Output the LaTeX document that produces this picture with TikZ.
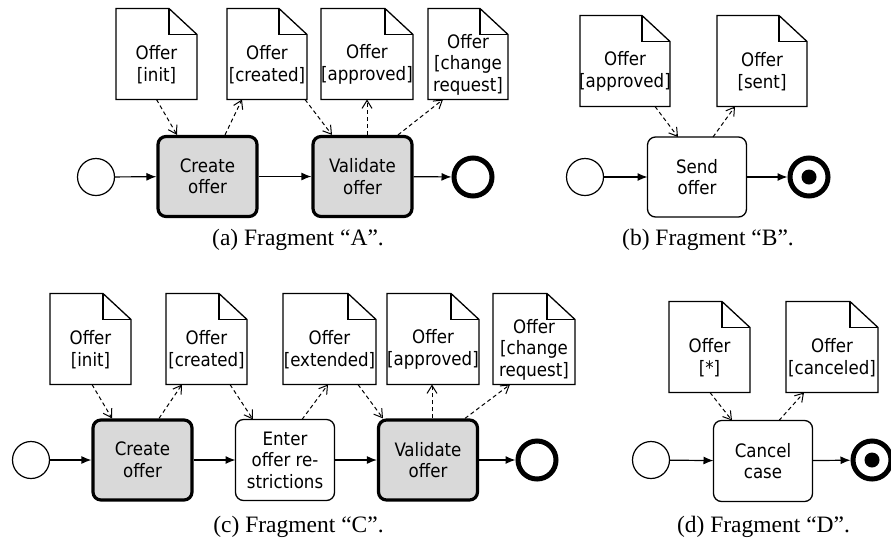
\documentclass[tikz,border=0pt]{standalone}
\usepackage{fontspec}
\setmainfont{Liberation Serif}
\newfontfamily\dfont{DejaVu Sans Condensed}
\usetikzlibrary{arrows.meta}
\newcommand\offerdoc[5]{%
  \node[docbox, minimum width=#4pt] (#1) at (#2,#3) {};
  \draw[docline] (#1.north west) -- ([xshift=-28pt]#1.north east) -- ([yshift=-26pt]#1.north east) -- (#1.south east) -- (#1.south west) -- cycle;
  \draw[docline] ([xshift=-28pt]#1.north east) |- ([yshift=-26pt]#1.north east);
  \node[doctext] (#1t) at ([yshift=-10.5pt]#1.center) {#5};
}
\begin{document}
\begin{tikzpicture}[x=1pt,y=-1pt,
  every node/.style={inner sep=0pt, outer sep=0pt},
  dtext/.style={font=\dfont\fontsize{18.5}{21.5}\selectfont, align=center},
  task/.style={dtext, draw, rounded corners=8pt, line width=1.3pt, minimum width=99pt, minimum height=80pt, fill=white},
  hottask/.style={task, fill=black!15, line width=3.2pt, minimum width=99pt, minimum height=80pt, outer sep=1.6pt},
  startev/.style={circle, draw, line width=1.2pt, minimum size=37pt},
  endev/.style={circle, draw, line width=5pt, minimum size=38pt, outer sep=2.5pt},
  docbox/.style={minimum height=91pt},
  docline/.style={line width=1.3pt, line join=miter},
  doctext/.style={dtext},
  flow/.style={line width=1.2pt, -{Latex[length=10pt,width=8pt]}},
  assoc/.style={line width=1pt, dash pattern=on 4pt off 3pt, -{Straight Barb[length=8pt,width=10pt]}},
  caption/.style={font=\fontsize{23.5}{28}\selectfont}
]
\useasboundingbox (0,0) rectangle (891,542);

% ---------- Fragment A ----------
\node[startev] (sA) at (96,177) {};
\node[hottask] (tA1) at (207.5,176.5) {Create\\offer};
\node[hottask] (tA2) at (362.5,176.5) {Validate\\offer};
\node[endev] (eA) at (473,177) {};
\offerdoc{dA1}{156.5}{54}{81}{Offer\\{[init]}}
\offerdoc{dA2}{267}{54}{80}{Offer\\{[created]}}
\offerdoc{dA3}{367}{54}{92}{Offer\\{[approved]}}
\offerdoc{dA4}{468}{54}{80}{Offer\\{[change}\\request]}
\draw[flow] (sA) -- (tA1);
\draw[flow] (tA1) -- (tA2);
\draw[flow] (tA2) -- (eA);
\draw[assoc] (dA1.south) -- ([xshift=-30.5pt]tA1.north);
\draw[assoc] ([xshift=17.5pt]tA1.north) -- ([xshift=-25pt]dA2.south);
\draw[assoc] ([xshift=38pt]dA2.south) -- ([xshift=-30.5pt]tA2.north);
\draw[assoc] ([xshift=4.5pt]tA2.north) -- (dA3.south);
\draw[assoc] ([xshift=35.5pt]tA2.north) -- ([xshift=-25pt]dA4.south);
\node[caption] (capA) at (298,240) {(a) Fragment “A”.};

% ---------- Fragment B ----------
\node[startev] (sB) at (585,177) {};
\node[task] (tB) at (697,177) {Send\\offer};
\node[endev] (eB) at (809,177) {};
\fill (eB.center) circle[radius=7.5pt];
\offerdoc{dB1}{625}{61}{90}{Offer\\{[approved]}}
\offerdoc{dB2}{762}{61}{90}{Offer\\{[sent]}}
\draw[flow] (sB) -- (tB);
\draw[flow] (tB) -- (eB);
\draw[assoc] ([xshift=30pt]dB1.south) -- ([xshift=-19pt]tB.north);
\draw[assoc] ([xshift=16pt]tB.north) -- ([xshift=-27pt]dB2.south);
\node[caption] (capB) at (708,240) {(b) Fragment “B”.};

% ---------- Fragment C ----------
\node[startev] (sC) at (31,460) {};
\node[hottask] (tC1) at (142.5,460) {Create\\offer};
\node[task, minimum height=81pt] (tC2) at (285,460) {Enter\\offer re-\\strictions};
\node[hottask] (tC3) at (428,460) {Validate\\offer};
\node[endev] (eC) at (537,460) {};
\offerdoc{dC1}{90.5}{339}{81}{Offer\\{[init]}}
\offerdoc{dC2}{206.5}{339}{81}{Offer\\{[created]}}
\offerdoc{dC3}{329.5}{339}{93}{Offer\\{[extended]}}
\offerdoc{dC4}{433}{339}{92}{Offer\\{[approved]}}
\offerdoc{dC5}{534}{339}{82}{Offer\\{[change}\\request]}
\draw[flow] (sC) -- (tC1);
\draw[flow] (tC1) -- (tC2);
\draw[flow] (tC2) -- (tC3);
\draw[flow] (tC3) -- (eC);
\draw[assoc] ([xshift=1.5pt]dC1.south) -- ([xshift=-30.5pt]tC1.north);
\draw[assoc] ([xshift=16.5pt]tC1.north) -- ([xshift=-24.5pt]dC2.south);
\draw[assoc] ([xshift=23.5pt]dC2.south) -- ([xshift=-32pt]tC2.north);
\draw[assoc] ([xshift=17pt]tC2.north) -- ([xshift=-1.5pt]dC3.south);
\draw[assoc] ([xshift=28.5pt]dC3.south) -- ([xshift=-45pt]tC3.north);
\draw[assoc] ([xshift=4pt]tC3.north) -- ([xshift=-1pt]dC4.south);
\draw[assoc] ([xshift=37pt]tC3.north) -- ([xshift=-24pt]dC5.south);
\node[caption] (capC) at (298.5,527) {(c) Fragment “C”.};

% ---------- Fragment D ----------
\node[startev] (sD) at (651,460) {};
\node[task, minimum height=81pt] (tD) at (763,461) {Cancel\\case};
\node[endev] (eD) at (872,460) {};
\fill (eD.center) circle[radius=7.5pt];
\offerdoc{dD1}{709.5}{347}{81}{Offer\\{[*]}}
\offerdoc{dD2}{832}{347}{92}{Offer\\{[canceled]}}
\draw[flow] (sD) -- (tD);
\draw[flow] (tD) -- (eD);
\draw[assoc] ([xshift=0.5pt]dD1.south) -- ([xshift=-31pt]tD.north);
\draw[assoc] ([xshift=16pt]tD.north) -- ([xshift=-28pt]dD2.south);
\node[caption] (capD) at (763.5,527) {(d) Fragment “D”.};
\end{tikzpicture}
\end{document}
